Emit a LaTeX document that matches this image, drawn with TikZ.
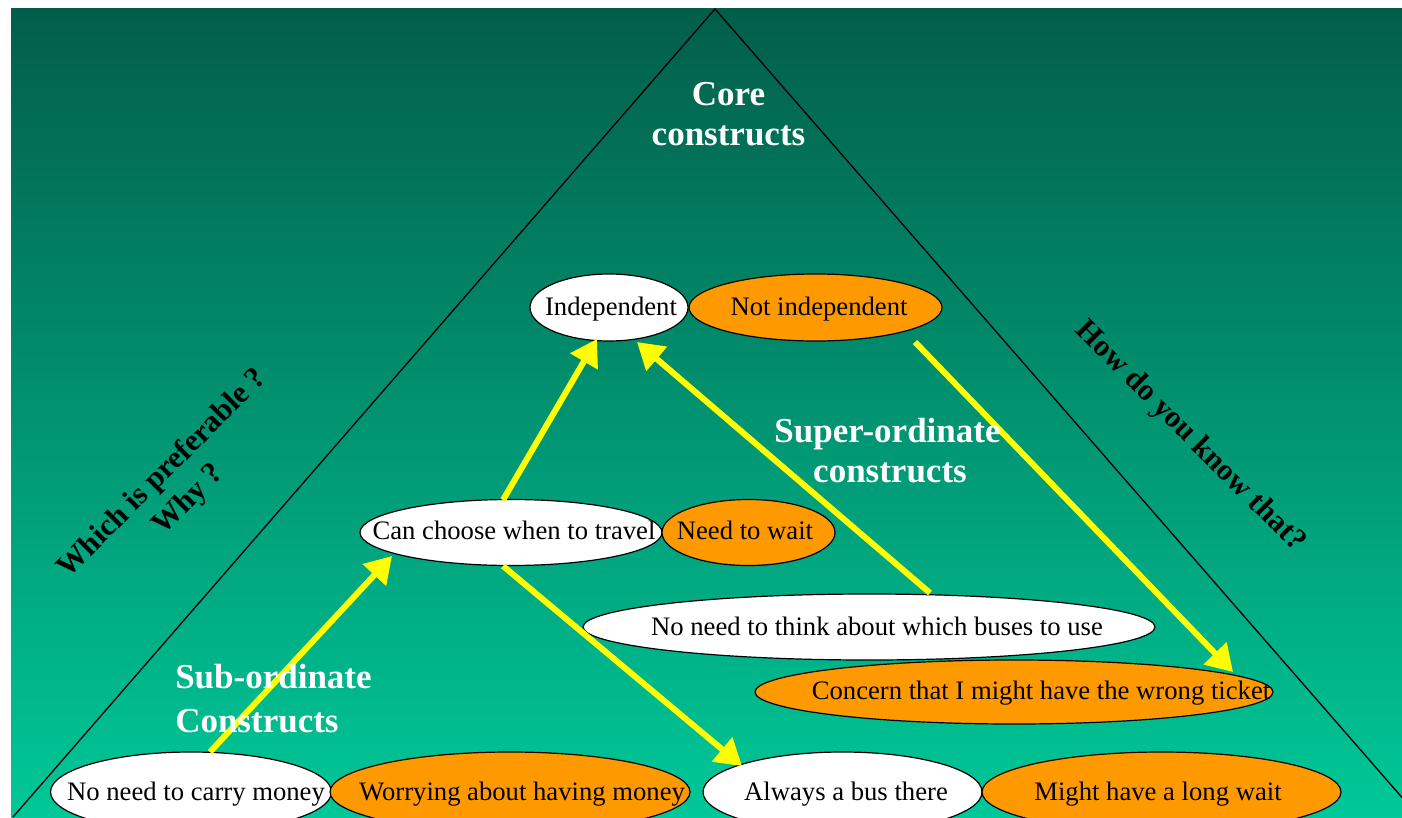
\documentclass[tikz,border=0pt]{standalone}
\usepackage{fontspec}
\setmainfont{Liberation Serif}
\usetikzlibrary{shapes.geometric,arrows.meta,calc}
\definecolor{bgtop}{RGB}{2,94,74}
\definecolor{bgbot}{RGB}{0,200,152}
\definecolor{orng}{RGB}{255,153,0}
\definecolor{yel}{RGB}{255,255,0}
\begin{document}
\begin{tikzpicture}[x=0.75pt,y=-0.75pt,
 ell/.style 2 args={ellipse,draw=black,line width=0.9pt,minimum width=#1*0.75pt,minimum height=#2*0.75pt,inner sep=0pt},
 wht/.style={fill=white}, org/.style={fill=orng},
 lbl/.style={font=\fontsize{20}{24}\selectfont, anchor=base, inner sep=0pt},
 ttl/.style={font=\fontsize{26.25}{30}\selectfont\bfseries, text=white, inner sep=0pt, anchor=base},
 side/.style={font=\fontsize{23}{27.7}\selectfont\bfseries, align=center, inner sep=0pt},
 arr/.style={draw=yel, line width=4.5pt, -{Triangle[length=19.5pt,width=23pt]}},
 tri/.style={draw=black, line width=1pt}]
\useasboundingbox (0,0) rectangle (1402,817);
\fill[white] (0,0) rectangle (1402,817);
\shade[top color=bgtop,bottom color=bgbot] (11,9) rectangle (1402,817);
\begin{scope}
\clip (11,9) rectangle (1402,817);
\coordinate (apex) at (715,9);
\coordinate (bl) at (13,817);
\coordinate (br) at (1419,817);
\draw[tri] (bl) -- (apex) -- (br);
% ellipses
\node[ell={158}{67},wht] (indep) at (609,307.5) {};
\node[ell={253}{67},org] (notind) at (815.5,307.5) {};
\node[ell={302}{66},wht] (choose) at (511,532.5) {};
\node[ell={173}{66},org] (wait) at (748.5,532.5) {};
\node[ell={572}{66},wht] (think) at (869,627) {};
\node[ell={518}{64},org] (concern) at (1014,692) {};
\node[ell={281}{80},wht] (carry) at (191,792) {};
\node[ell={360}{80},org] (worry) at (510,792) {};
\node[ell={279}{80},wht] (always) at (842.5,792) {};
\node[ell={359}{80},org] (longw) at (1161.5,792) {};
% arrows
\draw[arr] ($(carry)+(19,-40)$) -- ($(choose)+(-119,23.5)$);
\draw[arr] ($(choose)+(-8,-32.5)$) -- ($(indep)+(-12,31.5)$);
\draw[arr] ($(think)+(61,-34)$) -- ($(indep)+(28,34.5)$);
\draw[arr] ($(notind)+(99.5,34.5)$) -- ($(concern)+(219,-20)$);
\draw[arr] ($(choose)+(-8,33.5)$) -- ($(always)+(-100.5,-26)$);
% ellipse texts
\node[lbl] (tindep) at (611,315) {Independent};
\node[lbl] (tnotind) at (819,315) {Not independent};
\node[lbl] (tchoose) at (514,539) {Can choose when to travel};
\node[lbl] (twait) at (745,539) {Need to wait};
\node[lbl] (tthink) at (877,635) {No need to think about which buses to use};
\node[lbl] (tconcern) at (1041,699) {Concern that I might have the wrong ticket};
\node[lbl] (tcarry) at (196,800) {No need to carry money};
\node[lbl] (tworry) at (522,800) {Worrying about having money};
\node[lbl] (talways) at (846,800) {Always a bus there};
\node[lbl] (tlongw) at (1158,800) {Might have a long wait};
% titles
\node[ttl] (core1) at (728.5,105) {Core};
\node[ttl] (core2) at (728.5,145) {constructs};
\node[ttl] (sup1) at (887.5,442) {Super-ordinate};
\node[ttl] (sup2) at (890,482) {constructs};
\node[ttl,anchor=base west] (sub1) at (175,688) {Sub-ordinate};
\node[ttl,anchor=base west] (sub2) at (175,732) {Constructs};
% side questions
\node[side,rotate=45] (which) at (176,487) {Which is preferable ?\\Why ?};
\node[side,rotate=-45] (how) at (1190,437) {How do you know that?};
\end{scope}
\end{tikzpicture}
\end{document}
